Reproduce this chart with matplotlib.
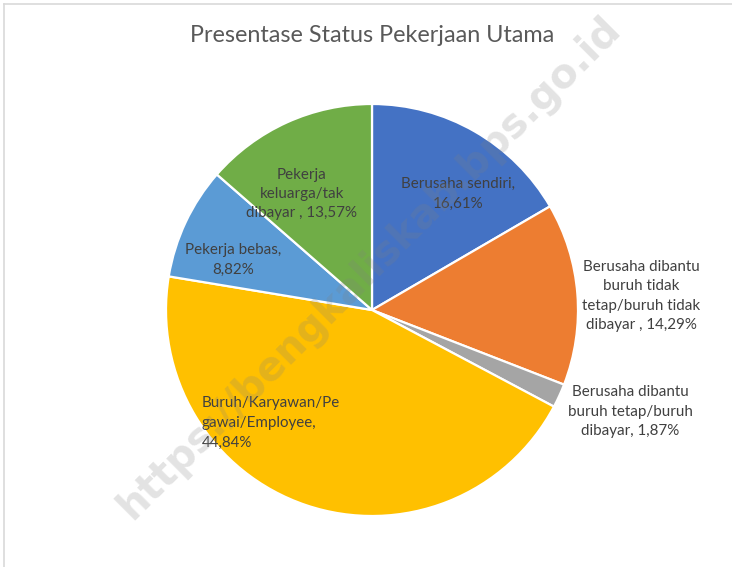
import matplotlib
matplotlib.use('Agg')
from matplotlib import pyplot as plt
from matplotlib.lines import Line2D

W, H = 732, 567
mydpi = 100

labels = ['Berusaha sendiri,\n16,61%',
          'Berusaha dibantu\nburuh tidak\ntetap/buruh tidak\ndibayar , 14,29%',
          'Berusaha dibantu\nburuh tetap/buruh\ndibayar, 1,87%',
          'Buruh/Karyawan/Pe\ngawai/Employee,\n44,84%',
          'Pekerja bebas,\n8,82%',
          'Pekerja\nkeluarga/tak\ndibayar , 13,57%']
values = [16.61, 14.29, 1.87, 44.84, 8.82, 13.57]
colors = ['#4472C4', '#ED7D31', '#A5A5A5', '#FFC000', '#5B9BD5', '#70AD47']

# label centres in pixels (x, y from top)
label_px = [(458, 194), (641, 296), (630, 412), (202, 423), (233, 260), (302, 194)]
label_ha = ['center', 'center', 'center', 'left', 'center', 'center']

cx, cy, r = 372, 310, 206

fig = plt.figure(figsize=(W / mydpi, H / mydpi), dpi=mydpi)
fig.patch.set_facecolor('white')

ax = fig.add_axes([(cx - r) / W, (H - cy - r) / H, 2 * r / W, 2 * r / H])
ax.pie(values, colors=colors, startangle=90, counterclock=False, radius=1,
       wedgeprops=dict(edgecolor='white', linewidth=1.6))
ax.set_xlim(-1, 1)
ax.set_ylim(-1, 1)
ax.set_aspect('equal')
ax.axis('off')

for lab, (px, py), ha in zip(labels, label_px, label_ha):
    fig.text(px / W, 1 - py / H, lab, ha=ha, va='center', multialignment=ha,
             fontsize=10.9, color='#404040', family='Lato', linespacing=1.5)

fig.text(372 / W, 1 - 35 / H, 'Presentase Status Pekerjaan Utama', ha='center', va='center',
         fontsize=16.8, color='#595959', family='Lato')

# watermark
fig.text(370 / W, 1 - 268 / H, 'https://bengkaliskab.bps.go.id', ha='center', va='center',
         rotation=45, fontsize=29, fontweight='bold', color='#808080', alpha=0.22,
         family='DejaVu Sans', zorder=10)

# chart frame (top and left edges visible)
fig.add_artist(Line2D([4 / W, 1], [1 - 4 / H, 1 - 4 / H], color='#D9D9D9', linewidth=1.2))
fig.add_artist(Line2D([4 / W, 4 / W], [0, 1 - 4 / H], color='#D9D9D9', linewidth=1.2))

fig.savefig('out.png', dpi=mydpi)
